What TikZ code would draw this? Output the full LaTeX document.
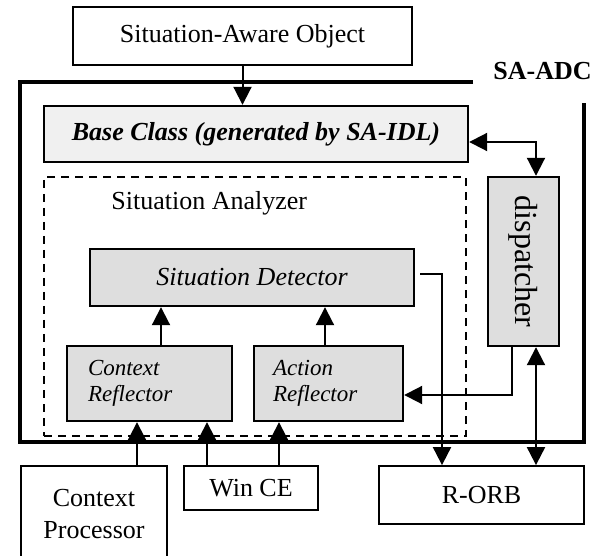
\documentclass[tikz,border=0pt]{standalone}
\usepackage{fontspec}
\setmainfont{Liberation Serif}
\usetikzlibrary{arrows.meta}
\definecolor{basefill}{gray}{0.94}
\definecolor{partfill}{gray}{0.87}
\newcommand{\txt}{\fontsize{13pt}{16pt}\selectfont}

\begin{document}
\begin{tikzpicture}[
            x=0.5pt, y=-0.5pt,
            >={Triangle[length=9pt,width=9pt]},
            box/.style={rectangle, draw, line width=0.9pt, inner sep=0pt, align=center, font=\txt},
            part/.style={box, line width=1.2pt, fill=partfill},
            reflector/.style={part, align=left, font=\fontsize{11.5pt}{13pt}\selectfont\itshape},
            link/.style={->, line width=1pt},
        ]

        \clip (0,0) rectangle (600,556);

        % SA-ADC frame, open at the top right for its label
        \draw[line width=1.6pt] (473,82) -- (20,82) -- (20,442) -- (584,442) -- (584,103);
        \node[font=\txt\bfseries] (adc) at (542.5,71) {SA-ADC};

        % Situation analyzer (dashed)
        \node[draw, line width=1.1pt, dash pattern=on 4pt off 3pt, minimum width=211pt, minimum height=129.5pt] (analyzer) at (255,306.5) {};
        \node[anchor=west, inner sep=0pt, font=\txt] (analyzerlabel) at (111,203) {Situation Analyzer};

        % Object on top
        \node[box, minimum width=169.5pt, minimum height=29pt] (sao) at (242.5,36) {Situation-Aware Object};

        % Base class
        \node[part, fill=basefill, minimum width=212pt, minimum height=28pt, font=\txt\bfseries\itshape] (base) at (256,134) {Base Class (generated by SA-IDL)};

        % Dispatcher (right)
        \node[part, minimum width=35.5pt, minimum height=84.5pt, font=\fontsize{16pt}{18pt}\selectfont] (dispatcher) at (523.5,261.5) {\rotatebox{-90}{dispatcher}};

        % Detector and reflectors
        \node[part, minimum width=162pt, minimum height=28.5pt, font=\txt\itshape] (detector) at (252,277.5) {Situation Detector};
        \node[reflector, minimum width=82.5pt, minimum height=37.5pt, text width=61.5pt] (ctxrefl) at (149.5,383.5) {Context\\Reflector};
        \node[reflector, minimum width=74.5pt, minimum height=37.5pt, text width=55.5pt] (actrefl) at (328.5,383.5) {Action\\Reflector};

        % Outside boxes (bottom)
        \node[box, minimum width=73pt, minimum height=48pt] (ctxproc) at (94,514) {Context\\Processor};
        \node[box, minimum width=67pt, minimum height=22pt] (wince) at (251,488) {Win CE};
        \node[box, minimum width=102.5pt, minimum height=29pt] (rorb) at (481.5,495) {R-ORB};

        % Connections
        \draw[link] (sao.south) -- (sao.south |- base.north);
        \draw[link, <->] ([yshift=-4pt]base.east) -| ([xshift=6.25pt]dispatcher.north);
        \draw[link] ([xshift=5.75pt]ctxrefl.north) -- ([xshift=5.75pt]ctxrefl.north |- detector.south);
        \draw[link] ([xshift=-1.75pt]actrefl.north) -- ([xshift=-1.75pt]actrefl.north |- detector.south);
        \draw[link] ([xshift=2.5pt,yshift=1.75pt]detector.east) -| ([xshift=-19.75pt]rorb.north);
        \draw[link] ([xshift=-5.75pt]dispatcher.south) |- ([yshift=-5.75pt]actrefl.east);
        \draw[link, <->] ([xshift=6.25pt]dispatcher.south) -- ([xshift=6.25pt]dispatcher.south |- rorb.north);
        \draw[link] ([xshift=21.5pt]ctxproc.north) -- ([xshift=21.5pt]ctxproc.north |- ctxrefl.south);
        \draw[link] ([xshift=-22pt]wince.north) -- ([xshift=-22pt]wince.north |- ctxrefl.south);
        \draw[link] ([xshift=14pt]wince.north) -- ([xshift=14pt]wince.north |- actrefl.south);

        \end{tikzpicture}
\end{document}
